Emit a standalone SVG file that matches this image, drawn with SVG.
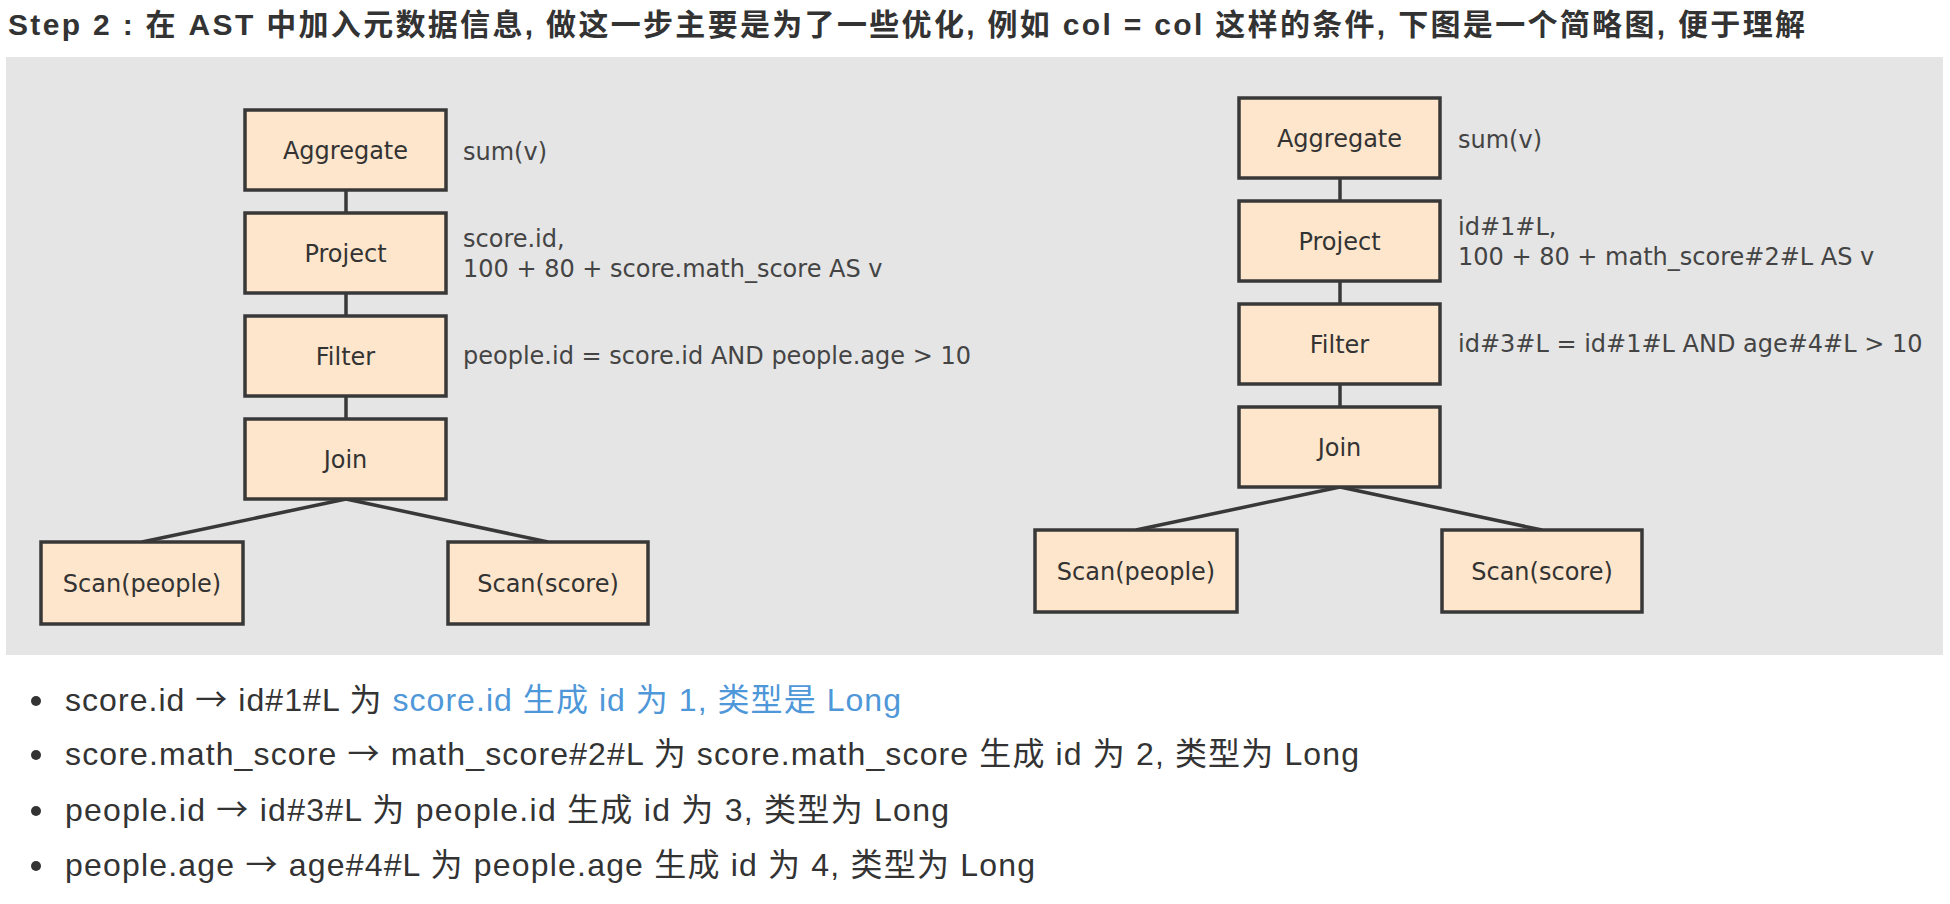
<svg xmlns="http://www.w3.org/2000/svg" width="1950" height="904" viewBox="0 0 1950 904">
<style>
.title{font-family:"Liberation Sans","Noto Sans CJK SC",sans-serif;font-size:30px;font-weight:bold;fill:#333}
.node rect{fill:#fde6cc;stroke:#383838;stroke-width:3.5}
.node text{font-family:"DejaVu Sans",Verdana,sans-serif;font-size:24px;fill:#333;text-anchor:middle}
.lbl{font-family:"DejaVu Sans",Verdana,sans-serif;font-size:24px;fill:#444}
.edge{stroke:#383838;stroke-width:3.5;fill:none}
.bul{font-family:"Liberation Sans","Noto Sans CJK SC",sans-serif;font-size:32px;fill:#333}
.arr{font-family:"Noto Sans CJK SC",sans-serif}
.blue{fill:#4e97d8}
</style>
<rect x="0" y="0" width="1950" height="904" fill="#ffffff"/>
<text class="title" x="8" y="35" textLength="1797" lengthAdjust="spacing">Step 2 : 在 AST 中加入元数据信息, 做这一步主要是为了一些优化, 例如 col = col 这样的条件, 下图是一个简略图, 便于理解</text>
<rect id="panel" x="6" y="57" width="1937" height="598" fill="#e5e5e5"/>

<g id="connectors">
  <line class="edge" x1="346" y1="190" x2="346" y2="213"/>
  <line class="edge" x1="346" y1="293" x2="346" y2="316"/>
  <line class="edge" x1="346" y1="396" x2="346" y2="419"/>
  <line class="edge" x1="346" y1="499" x2="142" y2="542"/>
  <line class="edge" x1="346" y1="499" x2="548" y2="542"/>
  <line class="edge" x1="1340" y1="178" x2="1340" y2="201"/>
  <line class="edge" x1="1340" y1="281" x2="1340" y2="304"/>
  <line class="edge" x1="1340" y1="384" x2="1340" y2="407"/>
  <line class="edge" x1="1340" y1="487" x2="1136" y2="530"/>
  <line class="edge" x1="1340" y1="487" x2="1542" y2="530"/>
</g>

<g id="l-aggregate" class="node"><rect x="245" y="110" width="201" height="80"/><text x="345.5" y="159">Aggregate</text></g>
<g id="l-project" class="node"><rect x="245" y="213" width="201" height="80"/><text x="345.5" y="262">Project</text></g>
<g id="l-filter" class="node"><rect x="245" y="316" width="201" height="80"/><text x="345.5" y="365">Filter</text></g>
<g id="l-join" class="node"><rect x="245" y="419" width="201" height="80"/><text x="345.5" y="468">Join</text></g>
<g id="l-scan-people" class="node"><rect x="41" y="542" width="202" height="82"/><text x="142" y="592">Scan(people)</text></g>
<g id="l-scan-score" class="node"><rect x="448" y="542" width="200" height="82"/><text x="548" y="592">Scan(score)</text></g>

<g id="l-labels">
  <text class="lbl" x="463" y="160">sum(v)</text>
  <text class="lbl" x="463" y="247">score.id,</text>
  <text class="lbl" x="463" y="277">100 + 80 + score.math_score AS v</text>
  <text class="lbl" x="463" y="364">people.id = score.id AND people.age &gt; 10</text>
</g>

<g id="r-aggregate" class="node"><rect x="1239" y="98" width="201" height="80"/><text x="1339.5" y="147">Aggregate</text></g>
<g id="r-project" class="node"><rect x="1239" y="201" width="201" height="80"/><text x="1339.5" y="250">Project</text></g>
<g id="r-filter" class="node"><rect x="1239" y="304" width="201" height="80"/><text x="1339.5" y="353">Filter</text></g>
<g id="r-join" class="node"><rect x="1239" y="407" width="201" height="80"/><text x="1339.5" y="456">Join</text></g>
<g id="r-scan-people" class="node"><rect x="1035" y="530" width="202" height="82"/><text x="1136" y="580">Scan(people)</text></g>
<g id="r-scan-score" class="node"><rect x="1442" y="530" width="200" height="82"/><text x="1542" y="580">Scan(score)</text></g>

<g id="r-labels">
  <text class="lbl" x="1458" y="148">sum(v)</text>
  <text class="lbl" x="1458" y="235">id#1#L,</text>
  <text class="lbl" x="1458" y="265">100 + 80 + math_score#2#L AS v</text>
  <text class="lbl" x="1458" y="352">id#3#L = id#1#L AND age#4#L &gt; 10</text>
</g>

<g id="bullets">
  <circle cx="36" cy="701" r="5" fill="#333"/>
  <circle cx="36" cy="755" r="5" fill="#333"/>
  <circle cx="36" cy="811" r="5" fill="#333"/>
  <circle cx="36" cy="866" r="5" fill="#333"/>
  <text class="bul" x="65" y="711" textLength="836" lengthAdjust="spacing">score.id <tspan class="arr">→</tspan> id#1#L 为 <tspan class="blue">score.id 生成 id 为 1, 类型是 Long</tspan></text>
  <text class="bul" x="65" y="765" textLength="1294" lengthAdjust="spacing">score.math_score <tspan class="arr">→</tspan> math_score#2#L 为 score.math_score 生成 id 为 2, 类型为 Long</text>
  <text class="bul" x="65" y="821" textLength="884" lengthAdjust="spacing">people.id <tspan class="arr">→</tspan> id#3#L 为 people.id 生成 id 为 3, 类型为 Long</text>
  <text class="bul" x="65" y="876" textLength="970" lengthAdjust="spacing">people.age <tspan class="arr">→</tspan> age#4#L 为 people.age 生成 id 为 4, 类型为 Long</text>
</g>
</svg>
